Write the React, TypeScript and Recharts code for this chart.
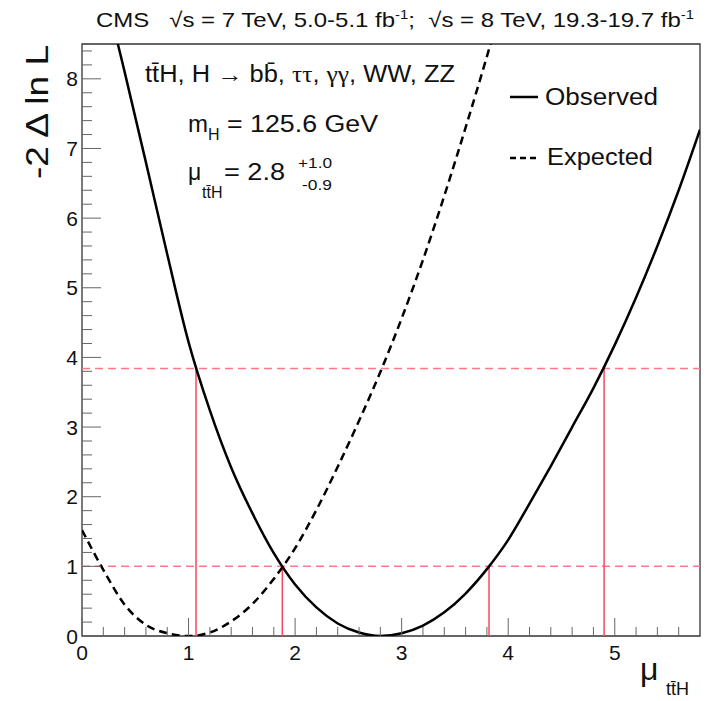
import React from "react";
import { LineChart, Line, XAxis, YAxis, ReferenceLine, ReferenceArea } from "recharts";

// scan points along mu_ttH
const muObs = [0.0, 0.2, 0.4, 0.6, 0.8, 1.0, 1.2, 1.4, 1.6, 1.8, 2.0, 2.2, 2.4, 2.6, 2.8, 3.0, 3.2, 3.4, 3.6, 3.8, 4.0, 4.2, 4.4, 4.6, 4.8, 5.0, 5.2, 5.4, 5.6, 5.8];
const observedNll = [10.8, 9.37, 8.1, 6.8, 5.48, 4.22, 3.24, 2.42, 1.76, 1.19, 0.74, 0.41, 0.18, 0.05, 0.0, 0.04, 0.15, 0.34, 0.61, 0.96, 1.38, 1.9, 2.44, 3.0, 3.56, 4.18, 4.86, 5.6, 6.4, 7.27];

const muExp = [0.0, 0.2, 0.4, 0.6, 0.8, 1.0, 1.2, 1.4, 1.6, 1.8, 2.0, 2.2, 2.4, 2.6, 2.8, 3.0, 3.2, 3.4, 3.6, 3.8, 4.0];
const expectedNll = [1.52, 0.95, 0.45, 0.16, 0.04, 0.0, 0.05, 0.21, 0.46, 0.82, 1.26, 1.81, 2.43, 3.09, 3.79, 4.56, 5.4, 6.32, 7.3, 8.32, 9.4];

// 68% / 95% CL thresholds and where the observed curve crosses them
const thresholds = [1.0, 3.84];
const crossMu = [1.07, 1.88, 3.82, 4.9];
const crossLevel = [3.84, 1.0, 1.0, 3.84];

const xTicks = Array.from({ length: 29 }, (_, i) => i / 5);
const yTicks = Array.from({ length: 43 }, (_, i) => i / 5);

const obsData = muObs.map((mu, i) => ({ mu, nll: observedNll[i] }));
const expData = muExp.map((mu, i) => ({ mu, nll: expectedNll[i] }));

const FONT = "'Liberation Sans', Arial, Helvetica, sans-serif";
const SERIF = "'Liberation Serif', 'DejaVu Serif', serif";

const isMajor = (v: number) => Math.abs(v - Math.round(v)) < 1e-6;

function XTick(props: any) {
  const { x, y, payload } = props;
  const major = isMajor(payload.value);
  return (
    <g>
      <line x1={x} y1={y} x2={x} y2={y - (major ? 18 : 9)} stroke="#666" strokeWidth={1} />
      {major && (
        <text x={x} y={y + 24} textAnchor="middle" fontSize={21} fontFamily={FONT} fill="#111">
          {Math.round(payload.value)}
        </text>
      )}
    </g>
  );
}

function YTick(props: any) {
  const { x, y, payload } = props;
  const major = isMajor(payload.value);
  return (
    <g>
      <line x1={x} y1={y} x2={x + (major ? 19 : 10)} y2={y} stroke="#666" strokeWidth={1} />
      {major && (
        <text x={x - 4} y={y + 7.5} textAnchor="end" fontSize={21} fontFamily={FONT} fill="#111">
          {Math.round(payload.value)}
        </text>
      )}
    </g>
  );
}

export default function App() {
  return (
    <div style={{ position: "fixed", left: 0, top: 0, width: 707, height: 701, background: "#fff" }}>
      <LineChart width={707} height={701} margin={{ top: 44, right: 7, bottom: 35, left: 42 }}>
        <XAxis
          type="number"
          dataKey="mu"
          domain={[0, 5.8]}
          allowDataOverflow
          ticks={xTicks}
          interval={0}
          tickSize={0}
          tickMargin={0}
          axisLine={false}
          tick={<XTick />}
          height={30}
        />
        <YAxis
          type="number"
          domain={[0, 8.5]}
          allowDataOverflow
          ticks={yTicks}
          interval={0}
          tickSize={0}
          tickMargin={0}
          axisLine={false}
          tick={<YTick />}
          width={40}
        />
        <ReferenceArea x1={0} x2={5.8} y1={0} y2={8.5} fill="none" stroke="#333" strokeWidth={1.3} />
        {thresholds.map((t) => (
          <ReferenceLine key={t} y={t} stroke="#ff7a85" strokeWidth={1.5} strokeDasharray="8 5" />
        ))}
        {crossMu.map((m, i) => (
          <ReferenceLine
            key={m}
            segment={[{ x: m, y: 0 }, { x: m, y: crossLevel[i] }]}
            stroke="#f5485e"
            strokeWidth={1.5}
          />
        ))}
        <Line
          data={expData}
          dataKey="nll"
          type="monotone"
          stroke="#000"
          strokeWidth={2.5}
          strokeDasharray="8 5"
          dot={false}
          isAnimationActive={false}
        />
        <Line
          data={obsData}
          dataKey="nll"
          type="monotone"
          stroke="#000"
          strokeWidth={2.5}
          dot={false}
          isAnimationActive={false}
        />
      </LineChart>

      <svg
        width={707}
        height={701}
        style={{ position: "absolute", left: 0, top: 0, pointerEvents: "none" }}
        fontFamily={FONT}
        fill="#111"
      >
        <text x={96} y={27} fontSize={21} textLength={598} lengthAdjust="spacingAndGlyphs" xmlSpace="preserve">
          {"CMS   √s = 7 TeV, 5.0-5.1 fb"}
          <tspan dy={-8} fontSize={13}>-1</tspan>
          <tspan dy={8}>{";  √s = 8 TeV, 19.3-19.7 fb"}</tspan>
          <tspan dy={-8} fontSize={13}>-1</tspan>
        </text>

        <text x={145} y={82} fontSize={23} textLength={310} lengthAdjust="spacingAndGlyphs" xmlSpace="preserve">
          {"tt\u0304H, H "}
          <tspan fontFamily={SERIF}>→</tspan>
          {" bb\u0304, "}
          <tspan fontFamily={SERIF}>ττ</tspan>
          {", "}
          <tspan fontFamily={SERIF}>γγ</tspan>
          {", WW, ZZ"}
        </text>

        <text x={188} y={132} fontSize={23} textLength={20} lengthAdjust="spacingAndGlyphs">m</text>
        <text x={208} y={140} fontSize={16}>H</text>
        <text x={227} y={132} fontSize={23} textLength={151} lengthAdjust="spacingAndGlyphs">= 125.6 GeV</text>

        <text x={188} y={180} fontSize={23}>μ</text>
        <text x={202} y={198} fontSize={16}>{"tt\u0304H"}</text>
        <text x={224} y={180} fontSize={24} textLength={61} lengthAdjust="spacingAndGlyphs">= 2.8</text>
        <text x={298} y={168} fontSize={14} textLength={34} lengthAdjust="spacingAndGlyphs">+1.0</text>
        <text x={302} y={190} fontSize={14} textLength={30} lengthAdjust="spacingAndGlyphs">-0.9</text>

        <line x1={510} y1={97} x2={538} y2={97} stroke="#000" strokeWidth={2.5} />
        <text x={545} y={105} fontSize={23} textLength={113} lengthAdjust="spacingAndGlyphs">Observed</text>
        <line x1={510} y1={158} x2={538} y2={158} stroke="#000" strokeWidth={2.5} strokeDasharray="6 4" />
        <text x={547} y={165} fontSize={23} textLength={106} lengthAdjust="spacingAndGlyphs">Expected</text>

        <text
          x={48}
          y={45}
          fontSize={32}
          textAnchor="end"
          textLength={134}
          lengthAdjust="spacingAndGlyphs"
          transform="rotate(-90 48 45)"
        >
          -2 Δ ln L
        </text>

        <text x={640} y={680} fontSize={32}>μ</text>
        <text x={666} y={695} fontSize={18}>{"tt\u0304H"}</text>
      </svg>
    </div>
  );
}
